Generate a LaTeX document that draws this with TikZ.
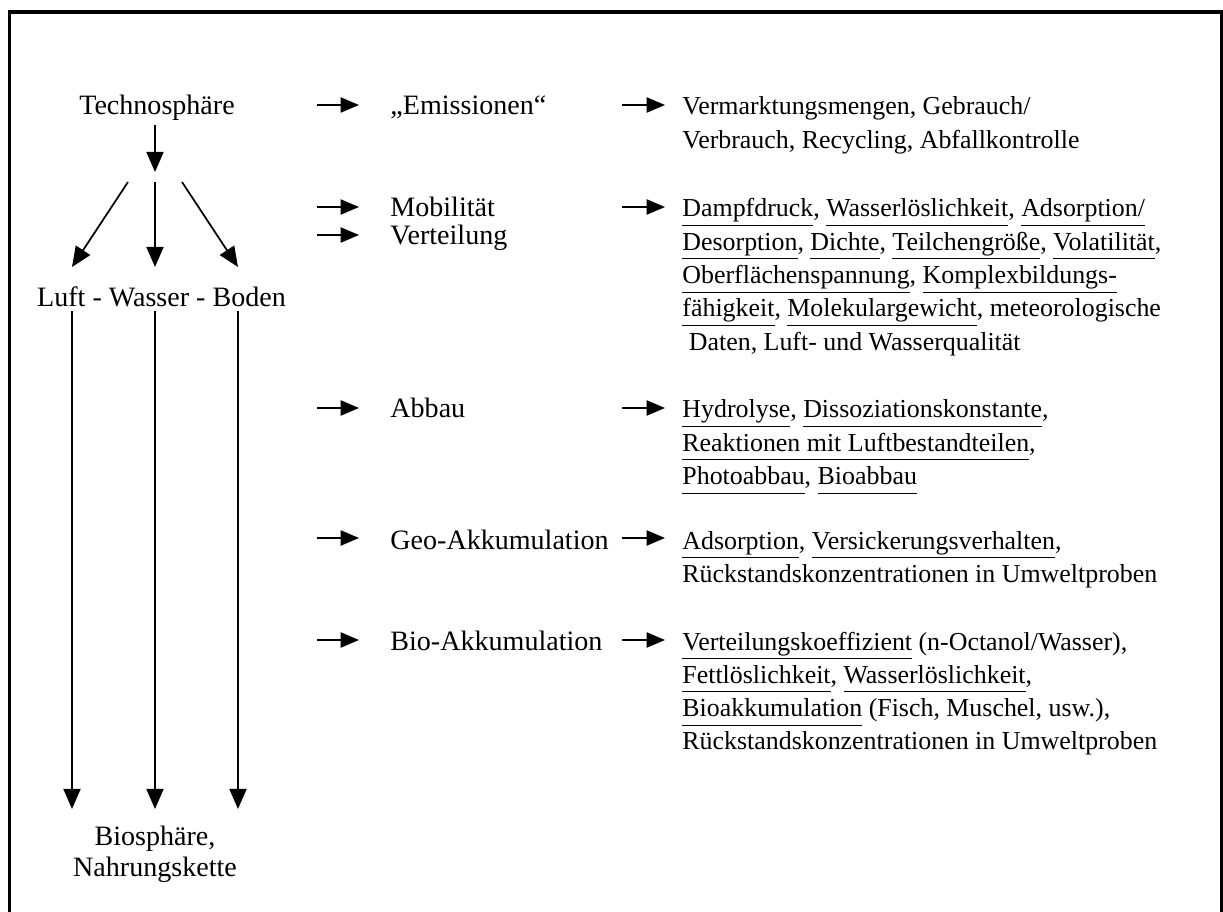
\documentclass[tikz,border=0pt]{standalone}
\usepackage{fontspec}
\setmainfont{Liberation Serif}
\usetikzlibrary{arrows.meta}
% underline at a common depth, below the descenders
\newcommand\ulw[1]{\underline{#1\vphantom{gpy}}}
% left-aligned text block hanging from its first baseline
\newcommand\txtblock[1]{\parbox[t]{12cm}{\raggedright\fontsize{12}{15.43}\selectfont #1}}
\begin{document}
\begin{tikzpicture}[x=0.4633pt,y=-0.4633pt,
  txt/.style={inner sep=0pt,font=\fontsize{13}{15}\selectfont},
  lbl/.style={txt,anchor=base west},
  ctr/.style={txt,anchor=base},
  flow/.style={line width=0.8pt,-{Triangle[length=9.3pt,width=7.9pt]}},
  sidearrow/.style={line width=0.8pt,-{Triangle[length=8.5pt,width=7pt]}},
  frame/.style={line width=1.6pt}]
\useasboundingbox (0,0) rectangle (1223,912);
\draw[frame] (9.5,912) -- (9.5,12) -- (1221.5,12) -- (1221.5,912);

% ---- left column: Technosphäre -> compartments -> biosphere
\node[ctr] (tech) at (157,115) {Technosphäre};
\node[ctr] (lwb) at (161.5,307) {Luft - Wasser - Boden};
\node[txt,anchor=base] (bio) at (155,845)
  {\parbox[t]{5cm}{\centering\fontsize{13}{14.8}\selectfont Biosphäre,\\Nahrungskette}};

\coordinate (t0) at (155,125);
\coordinate (t1) at (155,172);
\draw[flow] (t0) -- (t1);

\coordinate (fL) at (128,182);
\coordinate (fM) at (155,182);
\coordinate (fR) at (182,182);
\coordinate (cL) at (72,267);
\coordinate (cM) at (155,267);
\coordinate (cR) at (238,267);
\draw[flow] (fL) -- (cL);
\draw[flow] (fM) -- (cM);
\draw[flow] (fR) -- (cR);

\coordinate (gL) at (72,311);
\coordinate (gM) at (155,311);
\coordinate (gR) at (238,311);
\coordinate (hL) at (72,809);
\coordinate (hM) at (155,809);
\coordinate (hR) at (238,809);
\draw[flow] (gL) -- (hL);
\draw[flow] (gM) -- (hM);
\draw[flow] (gR) -- (hR);

% ---- middle column: processes
\node[lbl] (emi) at (390,115) {„Emissionen“};
\node[lbl] (mob) at (390,217) {Mobilität};
\node[lbl] (ver) at (390,245) {Verteilung};
\node[lbl] (abb) at (390,418) {Abbau};
\node[lbl] (geo) at (390,549) {Geo-Akkumulation};
\node[lbl] (bak) at (390,650) {Bio-Akkumulation};

\foreach \n/\y in {emi/105, mob/207, ver/235, abb/408, geo/538, bak/640}{
  \coordinate (\n-a) at (317,\y);
  \coordinate (\n-b) at (359,\y);
  \draw[sidearrow] (\n-a) -- (\n-b);
}

% ---- right column: relevant data
\node[lbl] (r1) at (682,115) {\txtblock{Vermarktungsmengen, Gebrauch/\\
  Verbrauch, Recycling, Abfallkontrolle}};
\node[lbl] (r2) at (682,217) {\txtblock{\ulw{Dampfdruck}, \ulw{Wasserlöslichkeit}, \ulw{Adsorption/}\\
  \ulw{Desorption}, \ulw{Dichte}, \ulw{Teilchengröße}, \ulw{Volatilität},\\
  \ulw{Oberflächenspannung}, \ulw{Komplexbildungs-}\\
  \ulw{fähigkeit}, \ulw{Molekulargewicht}, meteorologische\\
  \hspace*{3pt}Daten, Luft- und Wasserqualität}};
\node[lbl] (r3) at (682,418) {\txtblock{\ulw{Hydrolyse}, \ulw{Dissoziationskonstante},\\
  \ulw{Reaktionen mit Luftbestandteilen},\\
  \ulw{Photoabbau}, \ulw{Bioabbau}}};
\node[lbl] (r4) at (682,549) {\txtblock{\ulw{Adsorption}, \ulw{Versickerungsverhalten},\\
  Rückstandskonzentrationen in Umweltproben}};
\node[lbl] (r5) at (682,650) {\txtblock{\ulw{Verteilungskoeffizient} (n-Octanol/Wasser),\\
  \ulw{Fettlöslichkeit}, \ulw{Wasserlöslichkeit},\\
  \ulw{Bioakkumulation} (Fisch, Muschel, usw.),\\
  Rückstandskonzentrationen in Umweltproben}};

\foreach \n/\y in {r1/105, r2/207, r3/408, r4/538, r5/640}{
  \coordinate (\n-a) at (622,\y);
  \coordinate (\n-b) at (665,\y);
  \draw[sidearrow] (\n-a) -- (\n-b);
}
\end{tikzpicture}
\end{document}
